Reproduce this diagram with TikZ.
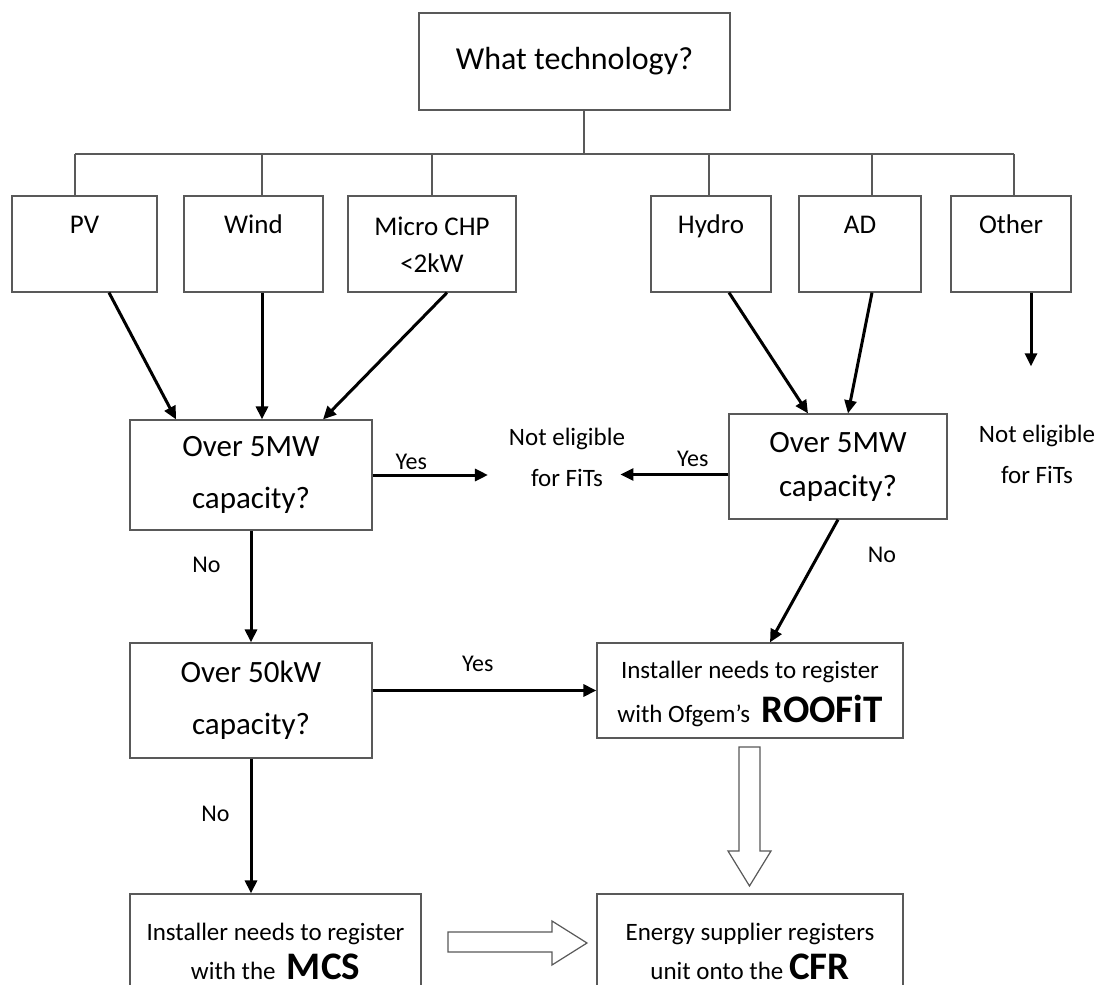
\documentclass[tikz,border=0pt]{standalone}
\usepackage{fontspec}
\setmainfont{Carlito}
\usetikzlibrary{arrows.meta}
\definecolor{linegray}{RGB}{89,89,89}
\newcommand{\regname}[1]{{\fontsize{19.5}{20}\selectfont\bfseries #1}}

\begin{document}
\begin{tikzpicture}[x=0.5pt,y=-0.5pt,
  plainbox/.style={draw=linegray, line width=0.6pt, inner sep=0pt},
  topbox/.style={plainbox, minimum width=155.5pt, minimum height=48.5pt, font=\fontsize{16}{19}\selectfont},
  techbox/.style={plainbox, minimum height=48pt},
  techlbl/.style={anchor=north, yshift=-5.75pt, inner sep=0pt, align=center, font=\fontsize{13.5}{18.5}\selectfont, execute at begin node=\strut},
  decbox/.style={plainbox, minimum width=121pt, align=center, font=\fontsize{15.5}{26}\selectfont},
  endbox/.style={plainbox, minimum width=153pt},
  reglbl/.style={anchor=north, inner sep=0pt, align=center, font=\fontsize{12.5}{22}\selectfont},
  note/.style={inner sep=0pt, align=center, font=\fontsize{12.5}{20.5}\selectfont},
  lbl/.style={inner sep=0pt, font=\fontsize{12}{14}\selectfont},
  thinline/.style={draw=linegray, line width=0.6pt},
  flow/.style={line width=1.5pt, -{Triangle[length=6.5pt,width=6pt]}},
  hollow/.style={draw=linegray, line width=0.6pt, fill=white}]
  \useasboundingbox (0,0) rectangle (1105,985);
  \fill[white] (0,0) rectangle (1105,985);
  \clip (0,0) rectangle (1105,985);

  \node[topbox] (what) at (574.5,61.5) {What technology?};
  \coordinate (bus) at (584,154);
  \node[techbox, minimum width=72.5pt, label={[techlbl]north:PV}] (pv) at (84.5,244) {};
  \node[techbox, minimum width=69.5pt, label={[techlbl]north:Wind}] (wind) at (253.5,244) {};
  \node[techbox, minimum width=84pt, label={[techlbl,yshift=-5pt]north:{Micro CHP\\<2kW}}] (chp) at (432,244) {};
  \node[techbox, minimum width=60pt, label={[techlbl]north:Hydro}] (hydro) at (711,244) {};
  \node[techbox, minimum width=61pt, label={[techlbl]north:AD}] (ad) at (860,244) {};
  \node[techbox, minimum width=60pt, label={[techlbl]north:Other}] (other) at (1011,244) {};

  \node[decbox, minimum height=55pt] (big5l) at (251,475) {Over 5MW\\capacity?};
  \node[decbox, minimum width=109pt, minimum height=52.5pt, font=\fontsize{15.5}{22}\selectfont] (big5r) at (838,466.5) {Over 5MW\\capacity?};
  \node[decbox, minimum height=57.5pt] (big50) at (251,700.5) {Over 50kW\\capacity?};
  \node[note] (nofitl) at (567,457) {Not eligible\\for FiTs};
  \node[note] (nofitr) at (1037,454) {Not eligible\\for FiTs};

  \node[endbox, minimum height=47.5pt, label={[reglbl,yshift=-9pt]north:{Installer needs to register\\with Ofgem’s~ \regname{ROOFiT}}}] (roofit) at (750,690.5) {};
  \node[endbox, minimum width=145.5pt, minimum height=57.5pt, label={[reglbl,yshift=-14.5pt,font=\fontsize{12.5}{19.5}\selectfont]north:{Installer needs to register\\with the~ \regname{MCS}}}] (mcs) at (275.5,951.5) {};
  \node[endbox, minimum height=57.5pt, label={[reglbl,yshift=-14.5pt,font=\fontsize{12.5}{19.5}\selectfont]north:{Energy supplier registers\\unit onto the \regname{CFR}}}] (cfr) at (750,951.5) {};

  \draw[thinline] (what.south -| bus) -- (bus);
  \draw[thinline] (bus -| 75,0) -- (bus -| 1014,0);
  \foreach \n/\x in {pv/75,wind/262,chp/432,hydro/709,ad/872,other/1014}
    \draw[thinline] (bus -| \x,0) -- (\n.north -| \x,0);

  \draw[flow] (pv.south -| 109,0) -- (big5l.north -| 176,0);
  \draw[flow] (wind.south -| 262,0) -- (big5l.north -| 262,0);
  \draw[flow] (chp.south -| 447,0) -- (big5l.north -| 323,0);
  \draw[flow] (hydro.south -| 729,0) -- (big5r.north -| 808,0);
  \draw[flow] (ad.south -| 872,0) -- (big5r.north -| 848,0);
  \draw[flow, shorten >=29pt] (other.south -| 1031,0) -- (nofitr.north -| 1031,0);

  \draw[flow, shorten >=10.3pt] (big5l.east) -- (big5l.east -| nofitl.west) node[lbl, pos=0.285, above=2pt] {Yes};
  \draw[flow, shorten >=-2.5pt] ([yshift=-4pt]big5r.west) -- ([yshift=-4pt]big5r.west -| nofitl.east) node[lbl, pos=0.345, above=3.25pt] {Yes};
  \draw[flow] (big5l.south) -- (big50.north) node[lbl, pos=0.31, left=14.5pt] {No};
  \draw[flow] (big5r.south) -- (roofit.north -| 770,0) node[lbl, pos=0.29, right=24pt] {No};
  \draw[flow] (big50.east |- roofit.west) -- (roofit.west) node[lbl, pos=0.47, above=8.5pt] {Yes};
  \draw[flow] (big50.south) -- (big50.south |- mcs.north) node[lbl, pos=0.41, left=10pt] {No};

  \draw[hollow] (448,932) -- (552,932) -- (552,921) -- (587,943) -- (552,965) -- (552,952) -- (448,952) -- cycle;
  \draw[hollow] (739,747) -- (760,747) -- (760,851) -- (771,851) -- (749.5,886) -- (728,851) -- (739,851) -- cycle;
\end{tikzpicture}
\end{document}
